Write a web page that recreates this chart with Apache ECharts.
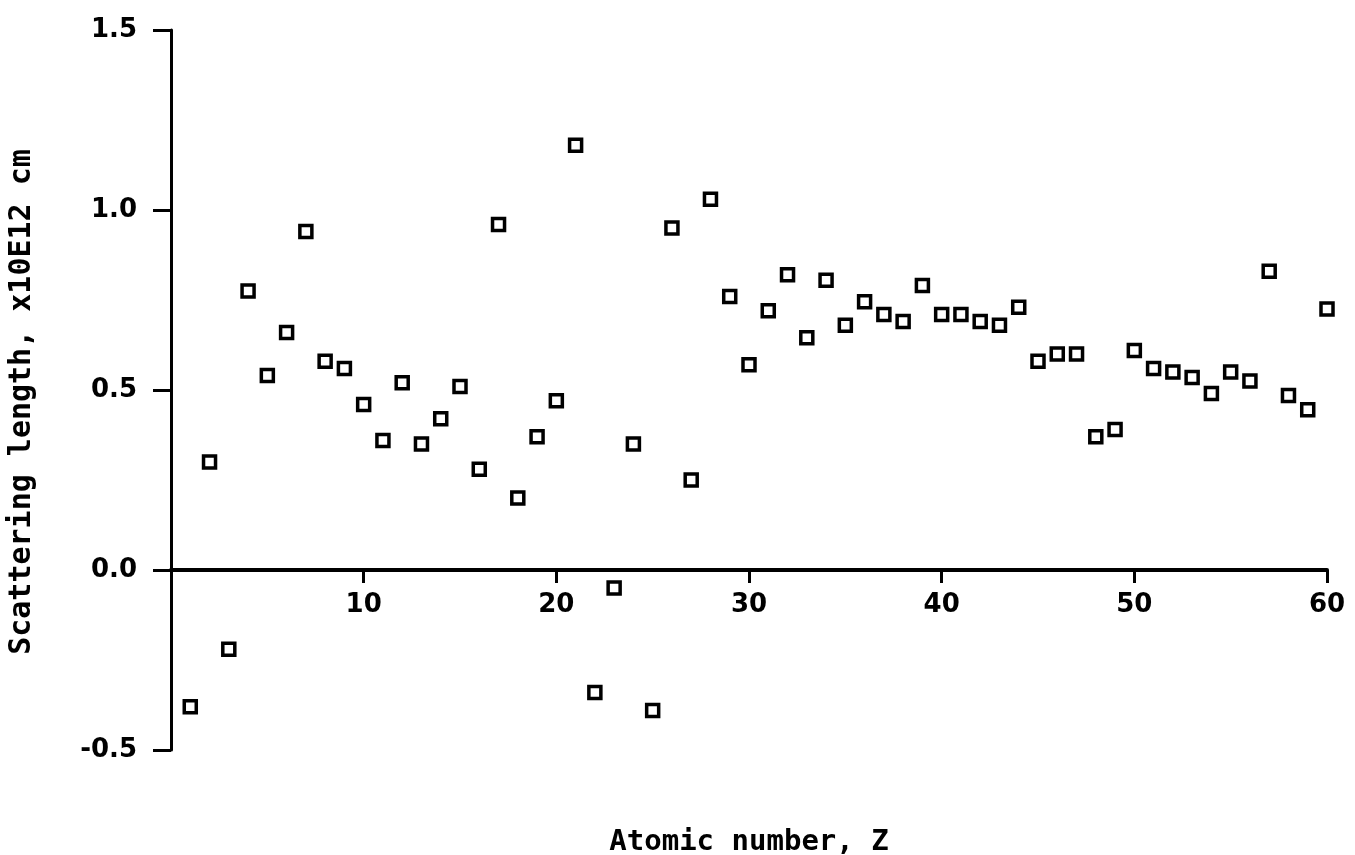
<!DOCTYPE html>
<html>
<head>
<meta charset="utf-8">
<script src="https://cdn.jsdelivr.net/npm/echarts@6/dist/echarts.min.js"></script>
<style>
    html, body { margin: 0; padding: 0; background: #fff; }
    #chart { width: 1355px; height: 855px; }
</style>
</head>
<body>
<div id="chart"></div>
<script>
// atomic number Z = 1..60
const atomicNumbers = [
    1, 2, 3, 4, 5, 6, 7, 8, 9, 10,
    11, 12, 13, 14, 15, 16, 17, 18, 19, 20,
    21, 22, 23, 24, 25, 26, 27, 28, 29, 30,
    31, 32, 33, 34, 35, 36, 37, 38, 39, 40,
    41, 42, 43, 44, 45, 46, 47, 48, 49, 50,
    51, 52, 53, 54, 55, 56, 57, 58, 59, 60
]
// scattering length, x10E12 cm
const scatteringLengths = [
    -0.38, 0.30, -0.22, 0.775, 0.54, 0.66, 0.94, 0.58, 0.56, 0.46,
    0.36, 0.52, 0.35, 0.42, 0.51, 0.28, 0.96, 0.20, 0.37, 0.47,
    1.18, -0.34, -0.05, 0.35, -0.39, 0.95, 0.25, 1.03, 0.76, 0.57,
    0.72, 0.82, 0.645, 0.805, 0.68, 0.745, 0.71, 0.69, 0.79, 0.71,
    0.71, 0.69, 0.68, 0.73, 0.58, 0.60, 0.60, 0.37, 0.39, 0.61,
    0.56, 0.55, 0.535, 0.49, 0.55, 0.525, 0.83, 0.485, 0.445, 0.725
]

const labelFont = {
    color: '#000',
    fontFamily: 'DejaVu Sans',
    fontWeight: 'bold',
    fontSize: 26
}
const nameFont = {
    color: '#000',
    fontFamily: 'DejaVu Sans Mono',
    fontWeight: 'bold'
}

const chart = echarts.init(document.getElementById('chart'))

// grid spans y = -0.5 .. 1.5 over 720px, so y = 0 sits 180px above the bottom
const option = {
    backgroundColor: '#fff',
    animation: false,
    grid: {
        left: 171, right: 28, top: 30, bottom: 105,
        containLabel: false,
        outerBoundsMode: 'none'
    },
    xAxis: {
        type: 'value',
        min: 0,
        max: 60,
        interval: 10,
        offset: -180,
        name: 'Atomic number, Z',
        nameLocation: 'middle',
        nameGap: 258,
        nameTextStyle: { ...nameFont, fontSize: 29 },
        axisLine: { onZero: false, lineStyle: { color: '#000', width: 4 } },
        axisTick: { show: true, length: 13, lineStyle: { color: '#000', width: 3 } },
        axisLabel: {
            ...labelFont,
            margin: 22,
            formatter: (v) => (v === 0 ? '' : String(v))
        },
        splitLine: { show: false }
    },
    yAxis: {
        type: 'value',
        min: -0.5,
        max: 1.5,
        interval: 0.5,
        name: 'Scattering length, x10E12 cm',
        nameLocation: 'middle',
        nameGap: 134,
        nameRotate: 90,
        nameTextStyle: { ...nameFont, fontSize: 30, padding: [0, 24, 0, 0] },
        axisLine: { onZero: false, lineStyle: { color: '#000', width: 3 } },
        axisTick: { show: true, length: 18, lineStyle: { color: '#000', width: 3 } },
        axisLabel: {
            ...labelFont,
            margin: 34,
            formatter: (v) => v.toFixed(1)
        },
        splitLine: { show: false }
    },
    series: [{
        type: 'scatter',
        symbol: 'rect',
        symbolSize: 12,
        itemStyle: { color: '#fff', borderColor: '#000', borderWidth: 3.5, opacity: 1 },
        data: atomicNumbers.map((z, i) => [z, scatteringLengths[i]])
    }]
}

chart.setOption(option)
</script>
</body>
</html>
